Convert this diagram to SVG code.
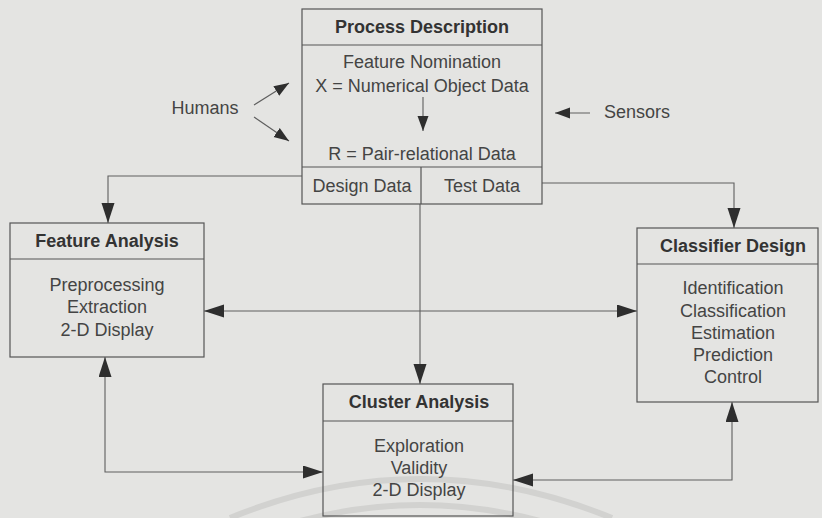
<svg xmlns="http://www.w3.org/2000/svg" width="822" height="518" viewBox="0 0 822 518">
<defs>
<style>
.bg{fill:#e4e4e2}
.box{fill:none;stroke:#555;stroke-width:1.2}
.sep{stroke:#555;stroke-width:1.2}
.ln{fill:none;stroke:#5e5e5e;stroke-width:1.1}
.t{font-family:"Liberation Sans",Arial,sans-serif;font-size:18px;fill:#444;text-anchor:middle}
.b{font-weight:bold;fill:#333}
.wm{fill:none;stroke:#d2d2d0;stroke-width:6}
</style>
<marker id="ah" markerUnits="userSpaceOnUse" markerWidth="21" markerHeight="14" refX="20" refY="6.5" orient="auto-start-reverse">
<path d="M0,0 L20,6.5 L0,13 Z" fill="#2e2e2e"/>
</marker>
<marker id="as" markerUnits="userSpaceOnUse" markerWidth="16" markerHeight="12" refX="15" refY="5.5" orient="auto">
<path d="M0,0 L15,5.5 L0,11 Z" fill="#2e2e2e"/>
</marker>
</defs>
<rect class="bg" x="0" y="0" width="822" height="518"/>
<path class="wm" d="M230,518 Q420,440 612,518"/>
<path class="wm" d="M270,530 Q420,480 570,530"/>

<g id="connectors">
<polyline class="ln" points="302,176 108,176 108,223" marker-end="url(#ah)"/>
<polyline class="ln" points="542,183 734,183 734,228" marker-end="url(#ah)"/>
<line class="ln" x1="420" y1="204" x2="420" y2="384" marker-end="url(#ah)"/>
<line class="ln" x1="204" y1="311" x2="637" y2="311" marker-start="url(#ah)" marker-end="url(#ah)"/>
<polyline class="ln" points="105,357 105,472 323,472" marker-start="url(#ah)" marker-end="url(#ah)"/>
<polyline class="ln" points="513,480 732,480 732,402" marker-start="url(#ah)" marker-end="url(#ah)"/>
<line class="ln" x1="254" y1="105" x2="289" y2="83" marker-end="url(#as)"/>
<line class="ln" x1="254" y1="117" x2="289" y2="141" marker-end="url(#as)"/>
<line class="ln" x1="590" y1="113" x2="555" y2="113" marker-end="url(#as)"/>
<line class="ln" x1="423" y1="97" x2="423" y2="131" marker-end="url(#as)"/>
</g>

<g id="humans"><text class="t" x="205" y="114">Humans</text></g>
<g id="sensors"><text class="t" x="637" y="118">Sensors</text></g>

<g id="process">
<rect class="box" x="302" y="9" width="240" height="195"/>
<line class="sep" x1="302" y1="45" x2="542" y2="45"/>
<line class="sep" x1="302" y1="167" x2="542" y2="167"/>
<line class="sep" x1="421" y1="167" x2="421" y2="204"/>
<text class="t b" x="422" y="33">Process Description</text>
<text class="t" x="422" y="68">Feature Nomination</text>
<text class="t" x="422" y="92">X = Numerical Object Data</text>
<text class="t" x="422" y="160">R = Pair-relational Data</text>
<text class="t" x="362" y="192">Design Data</text>
<text class="t" x="482" y="192">Test Data</text>
</g>

<g id="feature">
<rect class="box" x="10" y="223" width="194" height="134"/>
<line class="sep" x1="10" y1="259" x2="204" y2="259"/>
<text class="t b" x="107" y="247">Feature Analysis</text>
<text class="t" x="107" y="291">Preprocessing</text>
<text class="t" x="107" y="313">Extraction</text>
<text class="t" x="107" y="336">2-D Display</text>
</g>

<g id="classifier">
<rect class="box" x="637" y="228" width="181" height="174"/>
<line class="sep" x1="637" y1="264" x2="818" y2="264"/>
<text class="t b" x="733" y="252">Classifier Design</text>
<text class="t" x="733" y="294">Identification</text>
<text class="t" x="733" y="317">Classification</text>
<text class="t" x="733" y="339">Estimation</text>
<text class="t" x="733" y="361">Prediction</text>
<text class="t" x="733" y="383">Control</text>
</g>

<g id="cluster">
<rect class="box" x="323" y="384" width="190" height="132"/>
<line class="sep" x1="323" y1="421" x2="513" y2="421"/>
<text class="t b" x="419" y="408">Cluster Analysis</text>
<text class="t" x="419" y="452">Exploration</text>
<text class="t" x="419" y="474">Validity</text>
<text class="t" x="419" y="496">2-D Display</text>
</g>
</svg>
